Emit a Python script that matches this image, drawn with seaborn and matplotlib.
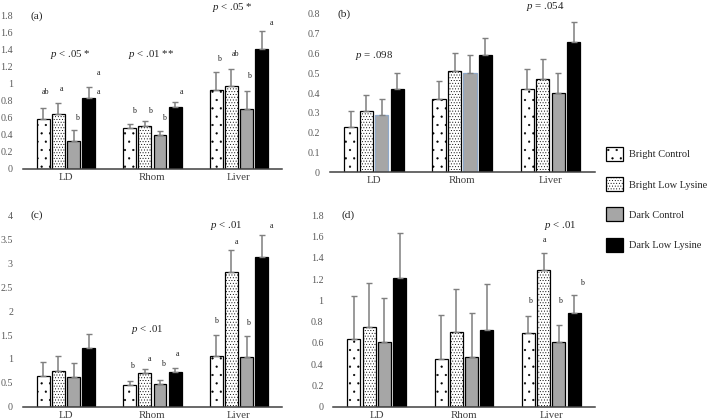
"""
Four panel bar chart: bright / dark rearing x control / low lysine diet,
measured in LD, Rhom and Liver (panels a-d).
"""
import numpy as np
import matplotlib
matplotlib.use("Agg")
import matplotlib.pyplot as plt
from matplotlib.patches import Patch
from matplotlib.ticker import FormatStrFormatter
import pandas as pd
import seaborn as sns

sites = ["LD", "Rhom", "Liver"]
groups = ["Bright Control", "Bright Low Lysine", "Dark Control", "Dark Low Lysine"]

# means and standard errors per group (LD, Rhom, Liver)
a_mean = {"Bright Control": [0.59, 0.48, 0.93], "Bright Low Lysine": [0.64, 0.51, 0.97],
          "Dark Control": [0.33, 0.40, 0.71], "Dark Low Lysine": [0.83, 0.73, 1.41]}
a_se = {"Bright Control": [0.13, 0.05, 0.21], "Bright Low Lysine": [0.13, 0.05, 0.21],
        "Dark Control": [0.13, 0.05, 0.21], "Dark Low Lysine": [0.13, 0.06, 0.21]}

b_mean = {"Bright Control": [0.23, 0.37, 0.42], "Bright Low Lysine": [0.31, 0.51, 0.47],
          "Dark Control": [0.29, 0.50, 0.40], "Dark Low Lysine": [0.42, 0.59, 0.66]}
b_se = {"Bright Control": [0.08, 0.09, 0.10], "Bright Low Lysine": [0.08, 0.09, 0.10],
        "Dark Control": [0.08, 0.09, 0.10], "Dark Low Lysine": [0.08, 0.09, 0.10]}

c_mean = {"Bright Control": [0.64, 0.45, 1.06], "Bright Low Lysine": [0.76, 0.70, 2.82],
          "Dark Control": [0.62, 0.47, 1.04], "Dark Low Lysine": [1.22, 0.72, 3.12]}
c_se = {"Bright Control": [0.30, 0.09, 0.45], "Bright Low Lysine": [0.30, 0.09, 0.46],
        "Dark Control": [0.30, 0.09, 0.44], "Dark Low Lysine": [0.30, 0.10, 0.46]}

d_mean = {"Bright Control": [0.64, 0.45, 0.69], "Bright Low Lysine": [0.75, 0.70, 1.28],
          "Dark Control": [0.61, 0.47, 0.61], "Dark Low Lysine": [1.21, 0.72, 0.88]}
d_se = {"Bright Control": [0.40, 0.41, 0.16], "Bright Low Lysine": [0.41, 0.41, 0.16],
        "Dark Control": [0.41, 0.41, 0.16], "Dark Low Lysine": [0.42, 0.43, 0.17]}

# significance letters: (site index, group index, letter, height, dx in bar widths)
a_letters = [(0, 0, "ab", 0.90, 0.15), (0, 1, "a", 0.94, 0.25), (0, 2, "b", 0.60, 0.25),
             (0, 3, "a", 1.13, 0.8), (0, 3, "a", 0.90, 0.8),
             (1, 0, "b", 0.68, 0.3), (1, 1, "b", 0.68, 0.4), (1, 2, "b", 0.60, 0.3),
             (1, 3, "a", 0.91, 0.5),
             (2, 0, "b", 1.29, 0.2), (2, 1, "ab", 1.35, 0.35), (2, 2, "b", 1.09, 0.2),
             (2, 3, "a", 1.72, 0.8)]
b_letters = []
c_letters = [(1, 0, "b", 0.86, 0.2), (1, 1, "a", 0.99, 0.4), (1, 2, "b", 0.89, 0.25),
             (1, 3, "a", 1.11, 0.15),
             (2, 0, "b", 1.79, -0.05), (2, 1, "a", 3.43, 0.4), (2, 2, "b", 1.76, 0.1),
             (2, 3, "a", 3.77, 0.8)]
d_letters = [(2, 0, "b", 0.99, 0.1), (2, 1, "a", 1.57, 0.1), (2, 2, "b", 0.99, 0.1),
             (2, 3, "b", 1.16, 0.6)]

# p value notes: (text, x in category units, height)
a_notes = [("$p$ < .05 *", 0.05, 1.35), ("$p$ < .01 **", 0.98, 1.35), ("$p$ < .05 *", 1.92, 1.90)]
b_notes = [("$p$ = .098", 0.0, 0.59), ("$p$ = .054", 1.94, 0.835)]
c_notes = [("$p$ < .01", 0.94, 1.61), ("$p$ < .01", 1.85, 3.79)]
d_notes = [("$p$ < .01", 2.1, 1.70)]

sns.set_theme(style="white")
plt.rcParams['font.family'] = ['Liberation Serif', 'DejaVu Serif']
plt.rcParams['mathtext.fontset'] = 'custom'
plt.rcParams['mathtext.it'] = 'Liberation Serif:italic'
plt.rcParams['mathtext.rm'] = 'Liberation Serif'
plt.rcParams['hatch.linewidth'] = 0.35

colors = {"Bright Control": "white", "Bright Low Lysine": "white",
          "Dark Control": "#a6a6a6", "Dark Low Lysine": "black"}
hatches = ["..", "......", "", ""]


def long_frame(means):
    rows = []
    for g in groups:
        for s, v in zip(sites, means[g]):
            rows.append({"site": s, "group": g, "value": v})
    return pd.DataFrame(rows)


def draw_panel(ax, means, ses, ymax, step, label, letters, notes):
    df = long_frame(means)
    sns.barplot(data=df, x="site", y="value", hue="group", hue_order=groups,
                palette=colors, width=0.7, gap=0.15, edgecolor="black",
                linewidth=0.9, saturation=1, legend=False, ax=ax)
    bar_sets = list(ax.containers)
    for gi, bars in enumerate(bar_sets):
        xs, hs = [], []
        for bar in bars:
            bar.set_hatch(hatches[gi])
            xs.append(bar.get_x() + bar.get_width() / 2)
            hs.append(bar.get_height())
        err = np.array(ses[groups[gi]])
        ax.errorbar(xs, hs, yerr=[np.zeros_like(err), err], fmt="none",
                    ecolor="#7f7f7f", elinewidth=1.1, capsize=2.2, capthick=1.0, zorder=1)
    bw = bar_sets[0][0].get_width()
    for si, gi, txt, h, dx in letters:
        bar = bar_sets[gi][si]
        x = bar.get_x() + bar.get_width() / 2 + dx * bw
        ax.text(x, h, txt, ha="center", va="center", fontsize=5.8, color="#222222")
    for txt, x, h in notes:
        ax.text(x, h, txt, ha="center", va="center", fontsize=7.8, color="#222222",
                clip_on=False)
    ax.set_ylim(0, ymax)
    ax.set_xlim(-0.5, 2.5)
    ax.set_yticks(np.arange(0, ymax + step / 2, step))
    ax.yaxis.set_major_formatter(FormatStrFormatter("%g"))
    ax.set_xlabel("")
    ax.set_ylabel("")
    for side in ["top", "right", "left"]:
        ax.spines[side].set_visible(False)
    ax.spines["bottom"].set_color("#404040")
    ax.spines["bottom"].set_linewidth(1.1)
    ax.tick_params(axis="y", length=0, pad=7, labelsize=7.2, labelcolor="#595959")
    ax.tick_params(axis="x", length=0, pad=3, labelsize=7.8, labelcolor="#404040")
    ax.text(0.03, ymax, label, ha="left", va="center", fontsize=8.2, color="#222222",
            transform=ax.get_yaxis_transform())
    return bar_sets


fig = plt.figure(figsize=(7.09, 4.2), dpi=100)
ax_a = fig.add_axes([0.032, 0.598, 0.366, 0.364])
ax_b = fig.add_axes([0.465, 0.590, 0.374, 0.377])
ax_c = fig.add_axes([0.032, 0.031, 0.366, 0.457])
ax_d = fig.add_axes([0.470, 0.031, 0.369, 0.457])

draw_panel(ax_a, a_mean, a_se, 1.8, 0.2, "(a)", a_letters, a_notes)
b_bars = draw_panel(ax_b, b_mean, b_se, 0.8, 0.1, "(b)", b_letters, b_notes)
draw_panel(ax_c, c_mean, c_se, 4.0, 0.5, "(c)", c_letters, c_notes)
draw_panel(ax_d, d_mean, d_se, 1.8, 0.2, "(d)", d_letters, d_notes)

# dark control bars in LD and Rhom of panel (b) carry a bluish outline
for bar in list(b_bars[2])[:2]:
    bar.set_edgecolor("#8fa8c8")

handles = [Patch(facecolor=colors[g], edgecolor="black", hatch=hatches[i], linewidth=0.9)
           for i, g in enumerate(groups)]
fig.legend(handles, groups, loc="upper left", bbox_to_anchor=(0.849, 0.66),
           frameon=False, fontsize=7.5, handlelength=1.6, handleheight=1.7,
           labelspacing=1.55, handletextpad=0.6, borderaxespad=0)

fig.savefig("out.png", dpi=100)
